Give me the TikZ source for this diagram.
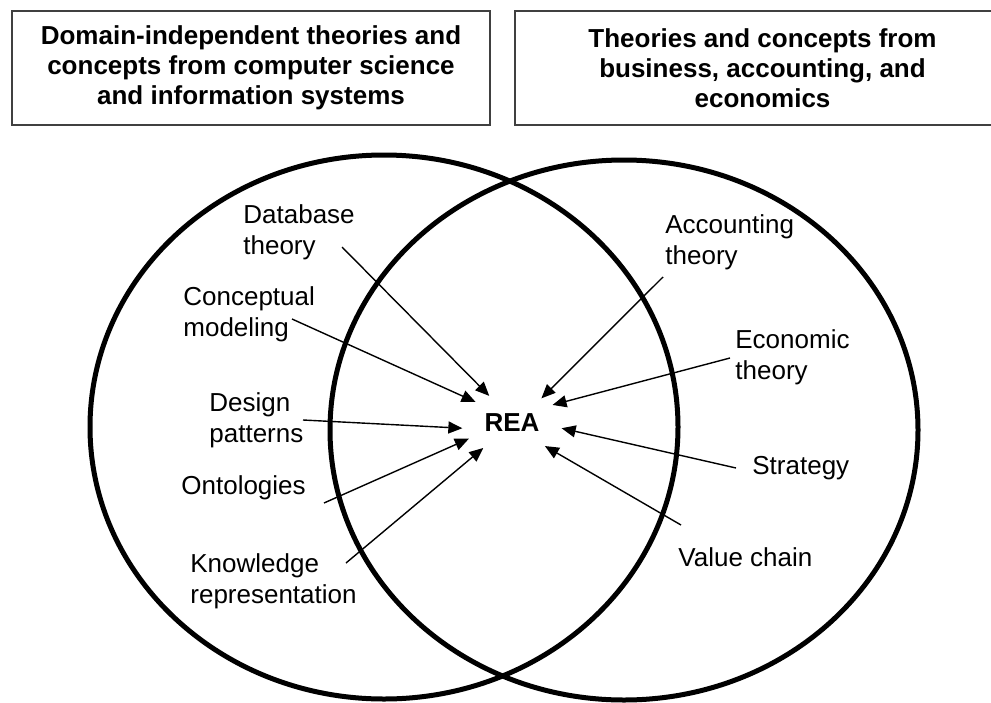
\documentclass[tikz,border=0pt]{standalone}
\usepackage{fontspec}
\setmainfont{Liberation Sans}
\usetikzlibrary{arrows.meta,shapes.geometric}

\begin{document}
\begin{tikzpicture}[x=0.5pt,y=-0.5pt,
  font=\fontsize{13}{15.5}\selectfont,
  headbox/.style={draw=black!75,line width=0.9pt,align=center,font=\fontsize{13}{15}\selectfont\bfseries,minimum height=57pt},
  lbl/.style={anchor=west,align=left,inner sep=0pt},
  ring/.style={line width=2.5pt},
  feed/.style={line width=0.7pt,-{Triangle[length=7pt,width=6pt]}}]
\useasboundingbox (0,0) rectangle (991,702);
\node[headbox,minimum width=239pt] (cs) at (251,68) {Domain-independent theories and\\concepts from computer science\\and information systems};
\node[headbox,minimum width=247.5pt] (biz) at (762.5,68) {Theories and concepts from\\business, accounting, and\\economics};
\draw[ring] (384,427) ellipse [x radius=147pt, y radius=136pt];
\draw[ring] (624,430) ellipse [x radius=147pt, y radius=135pt];
\node[ellipse,inner sep=0pt,minimum width=50pt,minimum height=30pt,font=\fontsize{13}{15.5}\selectfont\bfseries] (rea) at (512,423) {REA};
\node[lbl] (db) at (243,232) {Database\\theory};
\node[lbl] (cm) at (183,314) {Conceptual\\modeling};
\node[lbl] (dp) at (209,420) {Design\\patterns};
\node[lbl] (on) at (181,488) {Ontologies};
\node[lbl] (kr) at (190,581) {Knowledge\\representation};
\node[lbl] (at) at (665,242) {Accounting\\theory};
\node[lbl] (et) at (735,357) {Economic\\theory};
\node[lbl] (st) at (752,468) {Strategy};
\node[lbl] (vc) at (678,557) {Value chain};
\coordinate (dbt) at (342,247);
\coordinate (cmt) at (292,319);
\coordinate (dpt) at (303,420);
\coordinate (ont) at (324,503);
\coordinate (krt) at (346,563);
\coordinate (att) at (663,277);
\coordinate (ett) at (730,358);
\coordinate (stt) at (736,468);
\coordinate (vct) at (681,525);
\draw[feed] (dbt) -- (rea.130.6);
\draw[feed] (cmt) -- (rea.150.6);
\draw[feed] (dpt) -- (rea.186.1);
\draw[feed] (ont) -- (rea.200.1);
\draw[feed] (krt) -- (rea.221.8);
\draw[feed] (att) -- (rea.40.9);
\draw[feed] (ett) -- (rea.24);
\draw[feed] (stt) -- (rea.354.6);
\draw[feed] (vct) -- (rea.325.5);
\end{tikzpicture}
\end{document}
